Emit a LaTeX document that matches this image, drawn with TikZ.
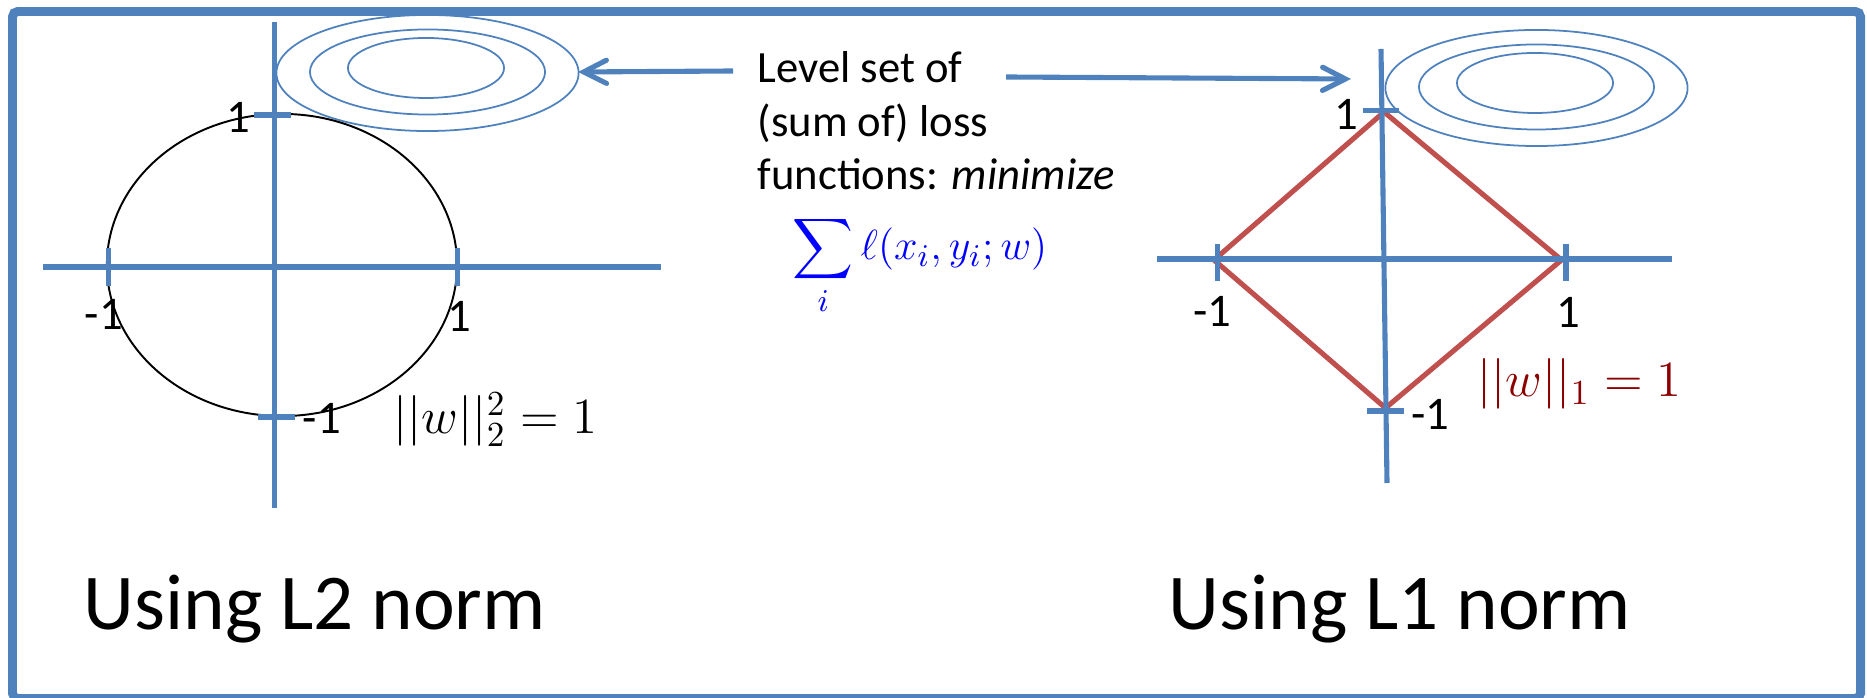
\documentclass[tikz,border=0pt]{standalone}
\usepackage[no-math]{fontspec}
\setmainfont{Carlito}
\usepackage{amsmath}
\usetikzlibrary{arrows.meta, positioning, calc}

\definecolor{axisblue}{RGB}{79,129,189}
\definecolor{diamondred}{RGB}{192,80,77}
\definecolor{normred}{RGB}{140,0,0}
\definecolor{lossblue}{RGB}{0,0,255}

\begin{document}
\begin{tikzpicture}[
    x=0.01cm, y=-0.01cm,
    frame/.style={draw=axisblue, line width=2.55pt, rounded corners=1.5pt},
    axis/.style={draw=axisblue, line width=1.45pt},
    level/.style={draw=axisblue, line width=0.5pt},
    pointer/.style={draw=axisblue, line width=1.45pt, -{Straight Barb[length=6.5pt, width=6.6pt, line cap=round]}},
    ball/.style={draw=black, line width=0.55pt},
    diamond/.style={draw=diamondred, line width=1.45pt, line join=miter},
    tick/.style={font=\fontsize{13.3}{16}\selectfont, inner sep=0pt},
    norm/.style={font=\fontsize{14}{17}\selectfont, inner sep=0pt, anchor=base west},
    title/.style={font=\fontsize{22.5}{27}\selectfont, inner sep=0pt, anchor=base west}
]
\useasboundingbox (0,0) rectangle (1867,698);

% outer frame
\draw[frame] (12.5,11.5) rectangle (1860.5,698.5);

% level sets of the loss
\foreach \cx/\cy in {427.5/73, 1536.5/88} {
    \draw[level] (\cx,\cy) ellipse [x radius=1.51cm, y radius=0.58cm];
    \draw[level] (\cx,\cy-1) ellipse [x radius=1.175cm, y radius=0.425cm];
    \draw[level] (\cx-1.5,\cy-5) ellipse [x radius=0.78cm, y radius=0.30cm];
}

% L2 ball
\draw[ball] (282,265) ellipse [x radius=1.75cm, y radius=1.51cm];
\draw[axis] (43,267) -- (661,267);
\draw[axis] (274.5,22) -- (274.5,508);
\draw[axis] (254,115) -- (291,115);
\draw[axis] (258,417) -- (295,417);
\draw[axis] (108.5,248) -- (108.5,286);
\draw[axis] (457.5,248) -- (457.5,286);

\node[tick] (l2top) at (238,117) {1};
\node[tick] (l2left) at (104,314) {-1};
\node[tick] (l2right) at (459,316) {1};
\node[tick] (l2bot) at (322,418) {-1};
\node[norm] (l2norm) at (393,434) {$||w||_2^2 = 1$};

% L1 ball
\coordinate (dtop) at (1384,112);
\coordinate (dright) at (1561.5,260);
\coordinate (dbot) at (1385.5,408);
\coordinate (dleft) at (1214,260);
\draw[diamond] (dtop) -- (dright) -- (dbot) -- (dleft) -- cycle;
\draw[axis] (1157,259) -- (1672,259);
\draw[axis] (1381,49) -- (1387,483);
\draw[axis] (1362.5,110.5) -- (1399,110.5);
\draw[axis] (1367,411) -- (1404,411);
\draw[axis] (1217.5,244) -- (1217.5,281);
\draw[axis] (1566,244) -- (1566,281);

\node[tick] (l1top) at (1346,114) {1};
\node[tick] (l1left) at (1212,311) {-1};
\node[tick] (l1right) at (1568,312) {1};
\node[tick] (l1bot) at (1430,414) {-1};
\node[norm, text=normred] (l1norm) at (1477,397) {$||w||_1 = 1$};

% loss annotation (base = last line)
\node[align=left, anchor=base west, inner sep=0pt,
      font=\fontsize{12.7}{15.3}\selectfont] (lvl) at (757,190)
    {Level set of\\(sum of) loss\\functions: \textit{minimize}};
\node[anchor=base west, inner sep=0pt, text=lossblue,
      font=\fontsize{12.8}{15}\selectfont] (loss) at (792,260)
    {$\displaystyle\sum_i \ell(x_i, y_i; w)$};

\coordinate (tailL) at (733,71);
\coordinate (tipL) at (578,72);
\coordinate (tailR) at (1006,77);
\coordinate (tipR) at (1351,79);
\draw[pointer] (tailL) -- (tipL);
\draw[pointer] (tailR) -- (tipR);

% titles
\node[title] (l2title) at (83,630) {Using L2 norm};
\node[title] (l1title) at (1168,630) {Using L1 norm};

\end{tikzpicture}
\end{document}
